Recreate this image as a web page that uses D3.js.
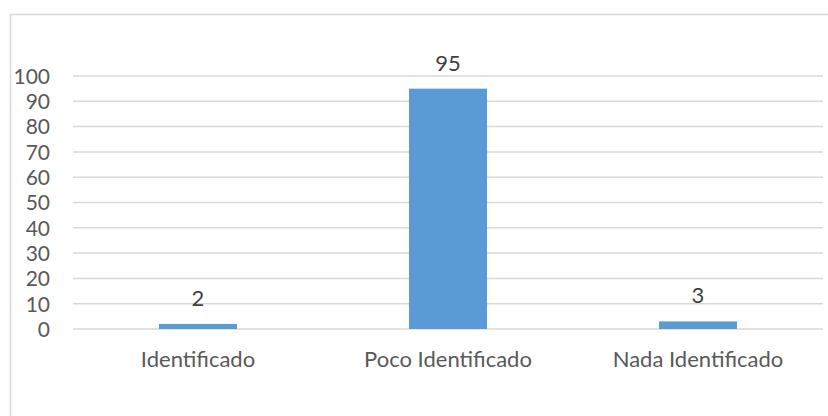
<!DOCTYPE html>
<html>
<head>
<meta charset="utf-8">
<script src="https://cdn.jsdelivr.net/npm/d3@7"></script>
<style>
  html, body { margin: 0; padding: 0; background: #fff; }
  svg { display: block; }
</style>
</head>
<body>
<svg id="chart" width="828" height="416"></svg>
<script>
const categories = ["Identificado", "Poco Identificado", "Nada Identificado"];
const values = [2, 95, 3];
const yTicks = [0, 10, 20, 30, 40, 50, 60, 70, 80, 90, 100];

const svg = d3.select("#chart");
const W = 828, H = 416;
const plot = { left: 73, right: 823, top: 76, bottom: 329 };
const font = "Lato, 'Open Sans', sans-serif";
const textColor = "#595959";

// chart border
svg.append("rect")
  .attr("x", 10.5).attr("y", 14.5)
  .attr("width", W).attr("height", H)
  .attr("fill", "#fff")
  .attr("stroke", "#d9d9d9").attr("stroke-width", 1.5);

const x = d3.scaleBand().domain(categories).range([plot.left, plot.right]).paddingInner(0.688).paddingOuter(0.344);
const y = d3.scaleLinear().domain([0, 100]).range([plot.bottom, plot.top]);

// gridlines
svg.append("g").selectAll("line").data(yTicks).join("line")
  .attr("x1", plot.left).attr("x2", plot.right)
  .attr("y1", d => y(d)).attr("y2", d => y(d))
  .attr("stroke", "#d9d9d9").attr("stroke-width", 1.5);

// y axis labels
const yAxis = d3.axisLeft(y).tickValues(yTicks).tickSize(0).tickPadding(0);
const gy = svg.append("g").attr("transform", `translate(50,0)`).call(yAxis);
gy.select(".domain").remove();
gy.selectAll("text").attr("font-family", font).attr("font-size", 21).attr("fill", textColor).attr("dy", "0.35em");

// bars
svg.append("g").selectAll("rect").data(values).join("rect")
  .attr("x", (d, i) => x(categories[i]))
  .attr("width", x.bandwidth())
  .attr("y", d => y(d))
  .attr("height", d => y(0) - y(d))
  .attr("fill", "#5b9bd5");

// data labels
svg.append("g").selectAll("text").data(values).join("text")
  .attr("x", (d, i) => x(categories[i]) + x.bandwidth() / 2)
  .attr("y", d => y(d) - 18)
  .attr("text-anchor", "middle")
  .attr("font-family", font).attr("font-size", 22).attr("fill", "#404040")
  .text(d => d);

// category labels
const xAxis = d3.axisBottom(x).tickSize(0).tickPadding(0);
const gx = svg.append("g").attr("transform", `translate(0,${plot.bottom})`).call(xAxis);
gx.select(".domain").remove();
gx.selectAll("text").attr("font-family", font).attr("font-size", 22).attr("fill", textColor)
  .attr("dy", null).attr("y", 38);
</script>
</body>
</html>
